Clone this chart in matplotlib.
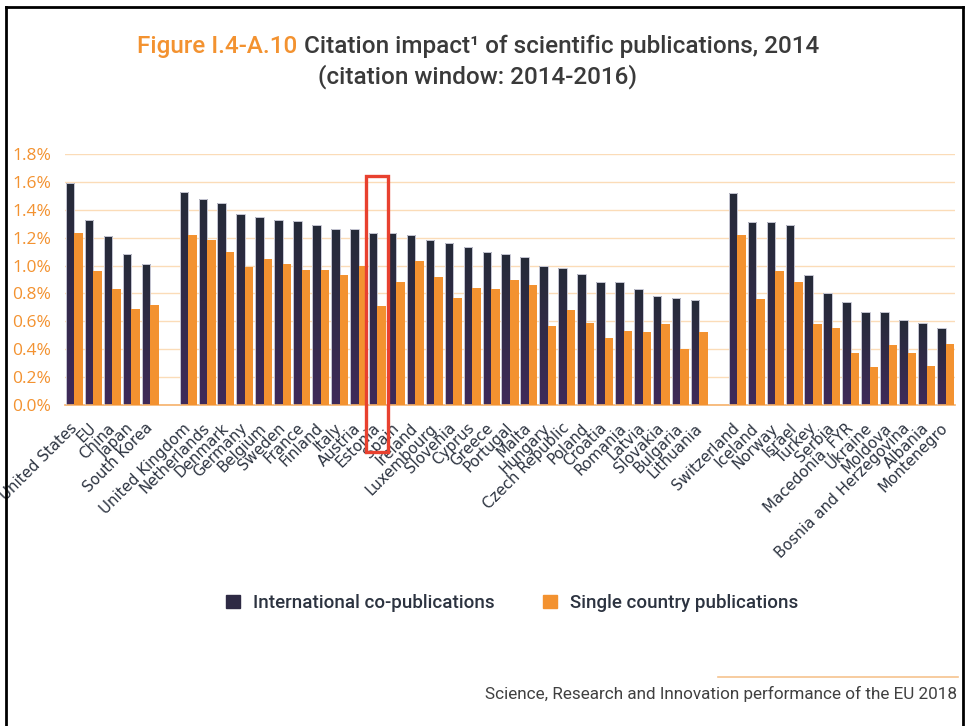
import numpy as np
import matplotlib
matplotlib.use('Agg')
import matplotlib.pyplot as plt
import matplotlib.transforms as mtransforms
from matplotlib.colors import LinearSegmentedColormap
from matplotlib.patches import Patch, Rectangle
from matplotlib.lines import Line2D

# citation impact, share of publications in top 10% (as %)
world = ['United States', 'EU', 'China', 'Japan', 'South Korea']
world_intl = [1.59, 1.33, 1.21, 1.08, 1.01]
world_single = [1.23, 0.96, 0.83, 0.69, 0.72]

eu = ['United Kingdom', 'Netherlands', 'Denmark', 'Germany', 'Belgium', 'Sweden',
      'France', 'Finland', 'Italy', 'Austria', 'Estonia', 'Spain', 'Ireland',
      'Luxembourg', 'Slovenia', 'Cyprus', 'Greece', 'Portugal', 'Malta', 'Hungary',
      'Czech Republic', 'Poland', 'Croatia', 'Romania', 'Latvia', 'Slovakia',
      'Bulgaria', 'Lithuania']
eu_intl = [1.53, 1.48, 1.45, 1.37, 1.35, 1.33, 1.32, 1.29, 1.26, 1.26,
           1.23, 1.23, 1.22, 1.18, 1.16, 1.13, 1.10, 1.08, 1.06, 1.00,
           0.98, 0.94, 0.88, 0.88, 0.83, 0.78, 0.77, 0.75]
eu_single = [1.22, 1.18, 1.10, 0.99, 1.05, 1.01, 0.97, 0.97, 0.93, 1.00,
             0.71, 0.88, 1.03, 0.92, 0.77, 0.84, 0.83, 0.90, 0.86, 0.57,
             0.68, 0.59, 0.48, 0.53, 0.52, 0.58, 0.40, 0.52]

assoc = ['Switzerland', 'Iceland', 'Norway', 'Israel', 'Turkey', 'Serbia',
         'Macedonia, FYR', 'Ukraine', 'Moldova', 'Bosnia and Herzegovina',
         'Albania', 'Montenegro']
assoc_intl = [1.52, 1.31, 1.31, 1.29, 0.93, 0.80, 0.74, 0.67, 0.67, 0.61, 0.59, 0.55]
assoc_single = [1.22, 0.76, 0.96, 0.88, 0.58, 0.55, 0.37, 0.27, 0.43, 0.37, 0.28, 0.44]

highlight = 'Estonia'

ORANGE = '#f39230'
DARK = '#2e2a44'
TEXT = '#2c3340'

names = world + eu + assoc
intl = world_intl + eu_intl + assoc_intl
single = world_single + eu_single + assoc_single
# one empty slot between the three groups
x = np.concatenate([np.arange(len(world)),
                    np.arange(len(eu)) + len(world) + 1,
                    np.arange(len(assoc)) + len(world) + len(eu) + 2])
nslots = len(names) + 2

fig = plt.figure(figsize=(9.69, 7.26), dpi=100)
ax = fig.add_axes([65 / 969, 1 - 405 / 726, 890 / 969, 251 / 726])

w = 0.45
bars = ax.bar(x - w / 2, intl, w, facecolor='none', edgecolor='#c8c8d4',
              linewidth=0.7, zorder=3)
ax.bar(x + w / 2, single, w, color=ORANGE, edgecolor='none', zorder=3)

# vertical gradient on the dark bars
cmap = LinearSegmentedColormap.from_list('bar', ['#252b38', '#3f2a5a'])
grad = np.linspace(0, 1, 256).reshape(-1, 1)
for b in bars:
    x0, y0 = b.get_xy()
    im = ax.imshow(grad, extent=[x0, x0 + b.get_width(), y0, y0 + b.get_height()],
                   origin='upper', cmap=cmap, aspect='auto', zorder=2.5)
    im.set_clip_path(b)

ax.set_xlim(-0.5, nslots - 0.5)
ax.set_ylim(0, 1.8)
ax.set_yticks(np.arange(0, 1.81, 0.2))
ax.set_yticklabels(['%.1f%%' % v for v in np.arange(0, 1.81, 0.2)],
                   color=ORANGE, fontsize=12.5, family='Open Sans')
ax.set_xticks(x)
ax.set_xticklabels(names, rotation=45, ha='right', va='center',
                   rotation_mode='anchor', color=TEXT, fontsize=10.8)
shift = mtransforms.ScaledTranslation(5 / 100, 0, fig.dpi_scale_trans)
for lab in ax.get_xticklabels():
    lab.set_transform(lab.get_transform() + shift)
ax.tick_params(axis='both', length=0)
ax.tick_params(axis='y', pad=10)
ax.tick_params(axis='x', pad=15)
ax.grid(axis='y', color='#fbdcb8', linewidth=1, zorder=0)
ax.set_axisbelow(True)
for s in ['top', 'right', 'left']:
    ax.spines[s].set_visible(False)
ax.spines['bottom'].set_color('#f6b26b')
ax.spines['bottom'].set_linewidth(1.2)

# red box around the highlighted country
hx = x[names.index(highlight)]
ax.add_patch(Rectangle((hx - 0.58, -0.34), 1.16, 1.98, fill=False,
                       edgecolor='#e8412f', linewidth=2.4, clip_on=False, zorder=5))

# title, first part in orange
fig.canvas.draw()
r = fig.canvas.get_renderer()
y1 = 1 - 46 / 726
t1 = fig.text(0, y1, 'Figure I.4-A.10 ', color=ORANGE, fontsize=17.5,
              family='Roboto', weight='medium', va='center')
t2 = fig.text(0, y1, 'Citation impact\u00b9 of scientific publications, 2014',
              color='#3a3a3a', fontsize=17.5, family='Roboto', weight='medium', va='center')
w1 = t1.get_window_extent(r).width
w2 = t2.get_window_extent(r).width
left = (478 - (w1 + w2) / 2) / 969
t1.set_x(left)
t2.set_x(left + w1 / 969)
fig.text(478 / 969, 1 - 77 / 726, '(citation window: 2014-2016)', color='#3a3a3a',
         fontsize=17.5, family='Roboto', weight='medium', ha='center', va='center')

handles = [Patch(color=DARK, label='International co-publications'),
           Patch(color=ORANGE, label='Single country publications')]
fig.legend(handles=handles, loc='center', bbox_to_anchor=(512 / 969, 1 - 603 / 726),
           ncol=2, frameon=False, handlelength=0.75, handleheight=0.75,
           columnspacing=2.6, handletextpad=0.7,
           prop={'family': 'Roboto', 'weight': 'medium', 'size': 13.5},
           labelcolor=TEXT)

fig.add_artist(Line2D([718 / 969, 958 / 969], [1 - 677 / 726] * 2,
                      color='#f6c38f', linewidth=1.2))
fig.text(957 / 969, 1 - 694 / 726, 'Science, Research and Innovation performance of the EU 2018',
         ha='right', va='center', color='#404040', fontsize=12.3, family='Roboto')

# frame of the page
for xs, ys in [([6, 6], [726, 7]), ([6, 963], [7, 7]), ([963, 963], [7, 726])]:
    fig.add_artist(Line2D([v / 969 for v in xs], [1 - v / 726 for v in ys],
                          color='black', linewidth=2))

fig.savefig('out.png', dpi=100)
